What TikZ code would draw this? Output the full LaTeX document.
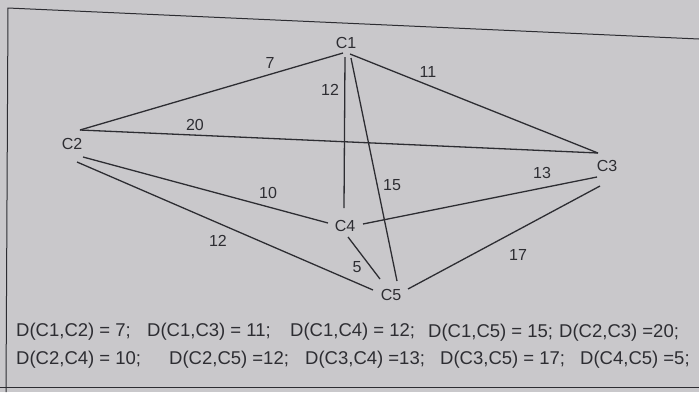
\documentclass[tikz,border=0pt]{standalone}
\usepackage{fontspec}
\setmainfont{Liberation Sans}
\definecolor{paper}{RGB}{201,200,203}
\definecolor{ink}{RGB}{45,45,50}

\begin{document}
\begin{tikzpicture}[x=1pt,y=-1pt,
		city/.style={text=ink,font=\fontsize{16}{18}\selectfont,inner sep=1pt},
		weight/.style={text=ink,font=\fontsize{16}{18}\selectfont,inner sep=1pt},
		road/.style={draw=ink,line width=1.3pt},
		dist/.style={text=ink,font=\fontsize{18.5}{20}\selectfont,anchor=west,inner sep=0pt}]
		\fill[paper] (0,0) rectangle (699,392);
		\useasboundingbox (0,0) rectangle (699,392);
		%frame of the page
		\draw[ink,line width=1pt] (699,39) -- (8,8) -- (6,392);
		\draw[ink,line width=1pt] (0,387) -- (699,387);
		%cities
		\node[city] (C1) at (346,43) {C1};
		\node[city] (C2) at (72,144) {C2};
		\node[city] (C3) at (607,166) {C3};
		\node[city] (C4) at (345,226) {C4};
		\node[city] (C5) at (391,295) {C5};
		%ends of the roads
		\coordinate (C1w) at (343,53);
		\coordinate (C1e) at (350,54);
		\coordinate (C1d) at (345,57);
		\coordinate (C1r) at (351,58);
		\coordinate (C2n) at (80,130);
		\coordinate (C2e) at (83,157);
		\coordinate (C2s) at (77,162);
		\coordinate (C3n) at (598,153);
		\coordinate (C3w) at (597,177);
		\coordinate (C3s) at (600,186);
		\coordinate (C4n) at (344,208);
		\coordinate (C4w) at (328,223);
		\coordinate (C4e) at (363,224);
		\coordinate (C4s) at (348,237);
		\coordinate (C5u) at (380,279);
		\coordinate (C5w) at (373,290);
		\coordinate (C5n) at (397,281);
		\coordinate (C5e) at (408,289);
		%roads
		\draw[road] (C1w) to (C2n);
		\draw[road] (C1e) to (C3n);
		\draw[road] (C1d) to (C4n);
		\draw[road] (C1r) to (C5n);
		\draw[road] (C2n) to (C3n);
		\draw[road] (C2e) to (C4w);
		\draw[road] (C2s) to (C5w);
		\draw[road] (C3w) to (C4e);
		\draw[road] (C3s) to (C5e);
		\draw[road] (C4s) to (C5u);
		%weights
		\node[weight] (w12) at (270,63) {7};
		\node[weight] (w13) at (428,72) {11};
		\node[weight] (w14) at (330,90) {12};
		\node[weight] (w15) at (392,185) {15};
		\node[weight] (w23) at (195,125) {20};
		\node[weight] (w24) at (268,193) {10};
		\node[weight] (w25) at (218,241) {12};
		\node[weight] (w34) at (542,173) {13};
		\node[weight] (w35) at (518,255) {17};
		\node[weight] (w45) at (357,267) {5};
		%distances
		\node[dist] (d12) at (16,332) {D(C1,C2) = 7;};
		\node[dist] (d13) at (147,332) {D(C1,C3) = 11;};
		\node[dist] (d14) at (290,332) {D(C1,C4) = 12;};
		\node[dist] (d15) at (428,333) {D(C1,C5) = 15;};
		\node[dist] (d23) at (559,333) {D(C2,C3) =20;};
		\node[dist] (d24) at (16,360) {D(C2,C4) = 10;};
		\node[dist] (d25) at (169,360) {D(C2,C5) =12;};
		\node[dist] (d34) at (305,360) {D(C3,C4) =13;};
		\node[dist] (d35) at (440,360) {D(C3,C5) = 17;};
		\node[dist] (d45) at (580,360) {D(C4,C5) =5;};
	\end{tikzpicture}
\end{document}
